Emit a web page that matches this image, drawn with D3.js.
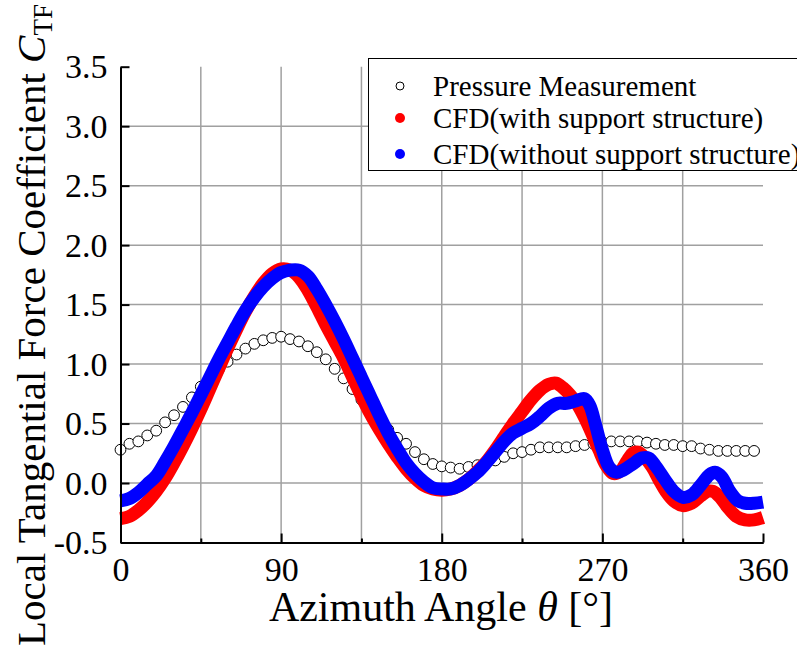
<!DOCTYPE html>
<html>
<head>
<meta charset="utf-8">
<script src="https://cdn.jsdelivr.net/npm/d3@7"></script>
<style>
  body { margin: 0; background: #fff; }
  text { font-family: "Liberation Serif", "Times New Roman", serif; fill: #000; }
</style>
</head>
<body>
<div id="chart"></div>
<script>
// chart size
var svgWidth = 797;
var svgHeight = 651;

// azimuth angles of the pressure taps (every 5 deg)
var pressAngles = d3.range(0, 360, 5);
var pressValues = [
  0.28, 0.33, 0.35, 0.40, 0.44, 0.51, 0.57, 0.64, 0.72, 0.81,
  0.88, 0.95, 1.02, 1.08, 1.13, 1.17, 1.20, 1.22, 1.23, 1.21,
  1.19, 1.15, 1.10, 1.04, 0.96, 0.88, 0.79, 0.70, 0.61, 0.53,
  0.45, 0.38, 0.33, 0.26, 0.20, 0.16, 0.14, 0.13, 0.12, 0.135,
  0.15, 0.17, 0.19, 0.22, 0.25, 0.26, 0.28, 0.30, 0.30, 0.30,
  0.30, 0.31, 0.32, 0.33, 0.345, 0.35, 0.35, 0.35, 0.35, 0.34,
  0.33, 0.32, 0.32, 0.31, 0.31, 0.29, 0.28, 0.27, 0.27, 0.27,
  0.27, 0.27
];

// CFD with support structure
var withAngles = [0, 5, 10, 15, 20, 25, 30, 35, 40, 45, 50, 55, 60, 65, 70, 75, 80, 85, 90, 95,
  100, 105, 110, 115, 120, 125, 130, 135, 140, 145, 150, 155, 160, 165, 170, 175, 180, 185, 190, 195,
  200, 205, 210, 215, 220, 225, 230, 235, 240, 244, 248, 252, 256, 260, 264, 268, 272, 276, 280, 284,
  287, 290, 294, 298, 302, 306, 310, 315, 320, 325, 329, 332, 336, 340, 345, 350, 355, 360];
var withValues = [-0.30, -0.28, -0.23, -0.16, -0.07, 0.04, 0.17, 0.31, 0.46, 0.62, 0.79, 0.96, 1.13, 1.29, 1.44, 1.57, 1.68, 1.76, 1.80, 1.79,
  1.73, 1.62, 1.48, 1.33, 1.19, 1.05, 0.89, 0.73, 0.58, 0.45, 0.33, 0.22, 0.12, 0.04, -0.02, -0.05, -0.06, -0.05, -0.02, 0.03,
  0.10, 0.18, 0.28, 0.39, 0.50, 0.60, 0.70, 0.78, 0.83, 0.84, 0.80, 0.74, 0.66, 0.55, 0.42, 0.28, 0.15, 0.08, 0.10, 0.19,
  0.25, 0.26, 0.21, 0.13, 0.02, -0.08, -0.15, -0.19, -0.17, -0.11, -0.07, -0.07, -0.12, -0.20, -0.28, -0.31, -0.31, -0.29];

// CFD without support structure
var withoutAngles = [0, 5, 10, 15, 20, 25, 30, 35, 40, 45, 50, 55, 60, 65, 70, 75, 80, 85, 90, 95,
  100, 105, 110, 115, 120, 125, 130, 135, 140, 145, 150, 155, 160, 165, 170, 175, 180, 185, 190, 195,
  200, 205, 210, 215, 220, 225, 230, 235, 240, 245, 250, 255, 260, 263, 266, 270, 274, 278, 282, 287,
  292, 296, 300, 305, 310, 315, 320, 325, 330, 333, 337, 341, 346, 350, 355, 360];
var withoutValues = [-0.15, -0.13, -0.08, -0.01, 0.06, 0.18, 0.31, 0.45, 0.59, 0.74, 0.89, 1.04, 1.18, 1.32, 1.45, 1.56, 1.65, 1.72, 1.77, 1.79,
  1.79, 1.74, 1.63, 1.50, 1.36, 1.21, 1.05, 0.89, 0.73, 0.57, 0.42, 0.29, 0.17, 0.08, 0.01, -0.04, -0.05, -0.05, -0.02, 0.03,
  0.09, 0.17, 0.26, 0.35, 0.42, 0.46, 0.50, 0.56, 0.63, 0.67, 0.67, 0.69, 0.71, 0.65, 0.50, 0.28, 0.13, 0.09, 0.11, 0.16,
  0.21, 0.21, 0.14, 0.03, -0.07, -0.12, -0.10, -0.02, 0.07, 0.09, 0.05, -0.06, -0.15, -0.17, -0.17, -0.16];

// ticks
var xMajorTicks = [0, 90, 180, 270, 360];
var xMinorTicks = [45, 135, 225, 315];
var yTicks = [-0.5, 0.0, 0.5, 1.0, 1.5, 2.0, 2.5, 3.0, 3.5];

var legendLabels = ["Pressure Measurement", "CFD(with support structure)", "CFD(without support structure)"];

var svg = d3.select("#chart")
  .append("svg")
  .attr("width", svgWidth)
  .attr("height", svgHeight);

// scales
var xScale = d3.scaleLinear().domain([0, 360]).range([120.5, 763]);
var yScale = d3.scaleLinear().domain([-0.5, 3.5]).range([542.5, 66.7]);

// grid lines
var grid = svg.append("g").attr("stroke", "#a0a0a0").attr("stroke-width", 1.5);
grid.selectAll(".vgrid")
  .data(xMinorTicks.concat([90, 180, 270]))
  .enter().append("line")
  .attr("x1", d => xScale(d)).attr("x2", d => xScale(d))
  .attr("y1", yScale(-0.5)).attr("y2", yScale(3.5));
grid.selectAll(".hgrid")
  .data(yTicks.filter(d => d > -0.5 && d < 3.5))
  .enter().append("line")
  .attr("x1", xScale(0)).attr("x2", xScale(360))
  .attr("y1", d => yScale(d)).attr("y2", d => yScale(d));

// pressure measurement circles
svg.append("g").selectAll("circle")
  .data(pressAngles.map((a, i) => [a, pressValues[i]]))
  .enter().append("circle")
  .attr("cx", d => xScale(d[0]))
  .attr("cy", d => yScale(d[1]))
  .attr("r", 5.4)
  .attr("fill", "#fff")
  .attr("stroke", "#000")
  .attr("stroke-width", 1);

var line = d3.line()
  .x(d => xScale(d[0]))
  .y(d => yScale(d[1]))
  .curve(d3.curveCatmullRom.alpha(0.5));

svg.append("path")
  .datum(withAngles.map((a, i) => [a, withValues[i]]))
  .attr("d", line)
  .attr("fill", "none")
  .attr("stroke", "#ff0000")
  .attr("stroke-width", 13)
  .attr("stroke-linejoin", "round");

svg.append("path")
  .datum(withoutAngles.map((a, i) => [a, withoutValues[i]]))
  .attr("d", line)
  .attr("fill", "none")
  .attr("stroke", "#0000ff")
  .attr("stroke-width", 13)
  .attr("stroke-linejoin", "round");

// axes
var xAxis = d3.axisBottom(xScale)
  .tickValues(xMajorTicks)
  .tickSize(-9)
  .tickSizeOuter(0)
  .tickPadding(14)
  .tickFormat(d => d);
var xMinor = d3.axisBottom(xScale)
  .tickValues(xMinorTicks)
  .tickSize(-4)
  .tickSizeOuter(0)
  .tickFormat("");
var yAxis = d3.axisLeft(yScale)
  .tickValues(yTicks)
  .tickSize(-9)
  .tickSizeOuter(0)
  .tickPadding(13)
  .tickFormat(d => d.toFixed(1));

function styleAxis(g) {
  g.select(".domain").attr("stroke", "#000").attr("stroke-width", 2);
  g.selectAll(".tick line").attr("stroke", "#000").attr("stroke-width", 2);
  g.selectAll(".tick text")
    .attr("font-size", "34px")
    .attr("font-family", "'Liberation Serif', 'Times New Roman', serif");
}

svg.append("g")
  .attr("transform", `translate(0, ${yScale(-0.5)})`)
  .call(xMinor)
  .call(styleAxis);
svg.append("g")
  .attr("transform", `translate(0, ${yScale(-0.5)})`)
  .call(xAxis)
  .call(styleAxis)
  .selectAll(".tick text").attr("dy", "0.71em");
svg.append("g")
  .attr("transform", `translate(${xScale(0)}, 0)`)
  .call(yAxis)
  .call(styleAxis)
  .selectAll(".tick text").attr("dy", "0.33em");

// axis titles
var xTitle = svg.append("text")
  .attr("x", 441)
  .attr("y", 621)
  .attr("text-anchor", "middle")
  .attr("font-size", "42px");
xTitle.append("tspan").text("Azimuth Angle ");
xTitle.append("tspan").attr("font-style", "italic").text("θ");
xTitle.append("tspan").text(" [°]");

var yTitle = svg.append("text")
  .attr("transform", "translate(45, 646) rotate(-90)")
  .attr("text-anchor", "start")
  .attr("font-size", "41px");
yTitle.append("tspan").text("Local Tangential Force Coefficient ");
yTitle.append("tspan").attr("font-style", "italic").text("C");
yTitle.append("tspan").attr("font-size", "27px").attr("dy", "7").text("TF");

// legend
var legend = svg.append("g");
legend.append("rect")
  .attr("x", 368.5).attr("y", 58.5)
  .attr("width", 440).attr("height", 112)
  .attr("fill", "#fff")
  .attr("stroke", "#000")
  .attr("stroke-width", 1);

var legendRows = legend.selectAll(".row")
  .data(legendLabels)
  .enter().append("g")
  .attr("transform", (d, i) => `translate(0, ${[86, 118, 154][i]})`);

legendRows.append("circle")
  .attr("cx", 400)
  .attr("cy", 0)
  .attr("r", (d, i) => i === 0 ? 4 : 5)
  .attr("fill", (d, i) => ["#fff", "#ff0000", "#0000ff"][i])
  .attr("stroke", (d, i) => i === 0 ? "#000" : "none")
  .attr("stroke-width", 1);

legendRows.append("text")
  .attr("x", 433)
  .attr("y", 0)
  .attr("dy", "0.33em")
  .attr("font-size", "29px")
  .text(d => d);
</script>
</body>
</html>
